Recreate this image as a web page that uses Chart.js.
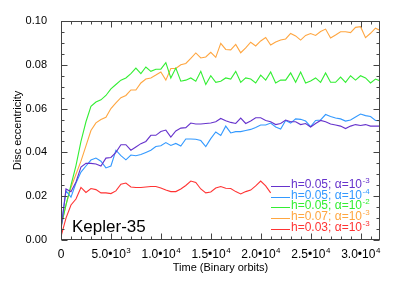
<!DOCTYPE html>
<html>
<head>
<meta charset="utf-8">
<script src="https://cdn.jsdelivr.net/npm/chart.js@4.4.0/dist/chart.umd.min.js"></script>
<style>
  html, body { margin: 0; padding: 0; background: #fff; }
  #wrap { width: 407px; height: 285px; }
</style>
</head>
<body>
<div id="wrap"><canvas id="discChart"></canvas></div>
<script>
// time in binary orbits, one sample every 500 orbits
const times = [0, 500, 1000, 1500, 2000, 2500, 3000, 3500, 4000, 4500,
  5000, 5500, 6000, 6500, 7000, 7500, 8000, 8500, 9000, 9500,
  10000, 10500, 11000, 11500, 12000, 12500, 13000, 13500, 14000, 14500,
  15000, 15500, 16000, 16500, 17000, 17500, 18000, 18500, 19000, 19500,
  20000, 20500, 21000, 21500, 22000, 22500, 23000, 23500, 24000, 24500,
  25000, 25500, 26000, 26500, 27000, 27500, 28000, 28500, 29000, 29500,
  30000, 30500, 31000, 31500, 32000];

// h=0.05, alpha=1e-3
const eccH05A3 = [0.0046, 0.0233, 0.022, 0.0265, 0.0333, 0.035, 0.035, 0.0347, 0.0338, 0.0374,
  0.0377, 0.040, 0.0435, 0.0435, 0.041, 0.0425, 0.0440, 0.045, 0.0478, 0.0478,
  0.0495, 0.0502, 0.047, 0.0498, 0.0511, 0.0513, 0.0534, 0.053, 0.053, 0.0532,
  0.0534, 0.054, 0.0555, 0.0545, 0.0537, 0.0532, 0.0557, 0.0532, 0.0543, 0.0558,
  0.0558, 0.0546, 0.054, 0.0527, 0.0532, 0.0548, 0.054, 0.054, 0.0527, 0.0532,
  0.0516, 0.0532, 0.0546, 0.054, 0.053, 0.0525, 0.052, 0.0509, 0.052, 0.0527,
  0.0523, 0.0527, 0.052, 0.052, 0.052];

// h=0.05, alpha=1e-4
const eccH05A4 = [0.0055, 0.0224, 0.0196, 0.026, 0.031, 0.0338, 0.0365, 0.0374, 0.036, 0.0329,
  0.0338, 0.041, 0.0385, 0.0366, 0.0388, 0.0385, 0.039, 0.040, 0.041, 0.0427,
  0.043, 0.0445, 0.0432, 0.0441, 0.0429, 0.0461, 0.0461, 0.046, 0.0454, 0.0427,
  0.0463, 0.0493, 0.0477, 0.052, 0.0489, 0.0495, 0.0495, 0.050, 0.0505, 0.0514,
  0.0525, 0.0525, 0.0534, 0.0516, 0.0507, 0.0546, 0.0534, 0.0553, 0.0551, 0.0543,
  0.0518, 0.0546, 0.0548, 0.0573, 0.0564, 0.0557, 0.0553, 0.0543, 0.0548, 0.0562,
  0.0575, 0.0568, 0.0564, 0.0546, 0.0545];

// h=0.05, alpha=1e-2
const eccH05A2 = [0.006, 0.016, 0.025, 0.034, 0.045, 0.054, 0.061, 0.063, 0.064, 0.066,
  0.069, 0.071, 0.073, 0.074, 0.076, 0.0785, 0.076, 0.079, 0.077, 0.078,
  0.078, 0.081, 0.074, 0.0785, 0.0725, 0.073, 0.074, 0.0725, 0.077, 0.071,
  0.075, 0.072, 0.0725, 0.074, 0.0735, 0.077, 0.072, 0.074, 0.0735, 0.0717,
  0.0753, 0.073, 0.0767, 0.0717, 0.073, 0.073, 0.0763, 0.072, 0.0767, 0.0717,
  0.0726, 0.074, 0.072, 0.0763, 0.072, 0.072, 0.0744, 0.072, 0.075, 0.073,
  0.075, 0.074, 0.0717, 0.0735, 0.0726];

// h=0.07, alpha=1e-3
const eccH07A3 = [0.0064, 0.016, 0.024, 0.030, 0.036, 0.043, 0.050, 0.0535, 0.055, 0.056,
  0.060, 0.0626, 0.065, 0.066, 0.0685, 0.0685, 0.0717, 0.0735, 0.074, 0.0753,
  0.0767, 0.073, 0.0783, 0.0783, 0.080, 0.0806, 0.0829, 0.0854, 0.0831, 0.0836,
  0.0857, 0.0834, 0.0898, 0.087, 0.0868, 0.0893, 0.0855, 0.0877, 0.0903, 0.0886,
  0.0909, 0.0925, 0.089, 0.0904, 0.0913, 0.0918, 0.0943, 0.0932, 0.0913, 0.0934,
  0.0943, 0.0934, 0.0952, 0.0963, 0.0922, 0.0936, 0.0951, 0.0951, 0.0947, 0.0971,
  0.0974, 0.0924, 0.0944, 0.0967, 0.0956];

// h=0.03, alpha=1e-3 (run stops near 2.1e4 orbits)
const eccH03A3 = [0.0016, 0.010, 0.016, 0.0187, 0.024, 0.0217, 0.0235, 0.023, 0.0215, 0.0215,
  0.0212, 0.0224, 0.0255, 0.026, 0.0242, 0.024, 0.024, 0.0242, 0.0244, 0.0244,
  0.0237, 0.0228, 0.0221, 0.0221, 0.0233, 0.0249, 0.0269, 0.0263, 0.0233, 0.0215,
  0.0219, 0.0237, 0.0244, 0.0236, 0.0235, 0.0221, 0.021, 0.0221, 0.0228, 0.0247,
  0.0269, 0.0247, 0.0215];

const seriesValues = [eccH05A3, eccH05A4, eccH05A2, eccH07A3, eccH03A3];
const seriesColors = ['#6633cc', '#3399ff', '#33ee33', '#ffa640', '#ff3333'];
const legendH = ['0.05', '0.05', '0.05', '0.07', '0.03'];
const legendExp = ['-3', '-4', '-2', '-3', '-3'];

const xTickValues = [0, 5000, 10000, 15000, 20000, 25000, 30000];
const xTickBase = ['0', '5.0\u202210', '1.0\u202210', '1.5\u202210', '2.0\u202210', '2.5\u202210', '3.0\u202210'];
const xTickExp = ['', '3', '4', '4', '4', '4', '4'];
const yTickValues = [0, 0.02, 0.04, 0.06, 0.08, 0.10];

const FONT = "'Liberation Sans', Arial, Helvetica, sans-serif";
const AXIS_COLOR = '#444';

function supText(ctx, base, sup, x, y, size, align) {
  ctx.font = size + 'px ' + FONT;
  const wb = ctx.measureText(base).width;
  const ss = Math.round(size * 0.65);
  ctx.font = ss + 'px ' + FONT;
  const ws = sup ? ctx.measureText(sup).width : 0;
  let x0 = x;
  if (align === 'center') x0 = x - (wb + ws) / 2;
  ctx.textAlign = 'left';
  ctx.textBaseline = 'alphabetic';
  ctx.font = size + 'px ' + FONT;
  ctx.fillText(base, x0, y);
  if (sup) {
    ctx.font = ss + 'px ' + FONT;
    ctx.fillText(sup, x0 + wb + 0.5, y - size * 0.42);
  }
}

const framePlugin = {
  id: 'frame',
  afterDraw(chart) {
    const ctx = chart.ctx;
    const ca = chart.chartArea;
    const xs = chart.scales.x;
    const ys = chart.scales.y;
    ctx.save();

    // box
    ctx.strokeStyle = AXIS_COLOR;
    ctx.lineWidth = 1;
    const L = Math.round(ca.left) + 0.5, R = Math.round(ca.right) - 0.5;
    const T = Math.round(ca.top) + 0.5, B = Math.round(ca.bottom) - 0.5;
    ctx.strokeRect(L, T, R - L, B - T);

    // ticks pointing inward on all four sides
    ctx.beginPath();
    for (let v = 0; v <= xs.max; v += 1000) {
      const px = Math.round(xs.getPixelForValue(v)) + 0.5;
      const len = v % 5000 === 0 ? 6 : 3;
      ctx.moveTo(px, B); ctx.lineTo(px, B - len);
      ctx.moveTo(px, T); ctx.lineTo(px, T + len);
    }
    for (let k = 0; k <= 20; k++) {
      const v = k * 0.005;
      const py = Math.round(ys.getPixelForValue(v)) + 0.5;
      const len = k % 4 === 0 ? 6 : 3;
      ctx.moveTo(L, py); ctx.lineTo(L + len, py);
      ctx.moveTo(R, py); ctx.lineTo(R - len, py);
    }
    ctx.stroke();

    // x tick labels with powers of ten
    ctx.fillStyle = '#000';
    xTickValues.forEach((v, i) => {
      supText(ctx, xTickBase[i], xTickExp[i], xs.getPixelForValue(v), ca.bottom + 18, 12, 'center');
    });

    // axis titles
    ctx.font = '11px ' + FONT;
    ctx.textAlign = 'center';
    ctx.textBaseline = 'alphabetic';
    ctx.fillText('Time (Binary orbits)', (ca.left + ca.right) / 2, ca.bottom + 31);
    ctx.save();
    ctx.translate(18, (ca.top + ca.bottom) / 2);
    ctx.rotate(-Math.PI / 2);
    ctx.textBaseline = 'middle';
    ctx.fillText('Disc eccentricity', 0, 0);
    ctx.restore();

    // system name
    ctx.font = '17px ' + FONT;
    ctx.textAlign = 'left';
    ctx.fillText('Kepler-35', ca.left + 11, ca.bottom - 8);

    // legend
    legendH.forEach((h, i) => {
      const by = 188 + i * 10.7;
      const ly = Math.round(by - 2) + 0.5;
      ctx.strokeStyle = seriesColors[i];
      ctx.beginPath();
      ctx.moveTo(ca.right - 109, ly);
      ctx.lineTo(ca.right - 90, ly);
      ctx.stroke();
      ctx.fillStyle = seriesColors[i];
      supText(ctx, 'h=' + h + '; \u03b1=10', legendExp[i], ca.right - 89, by, 12, 'left');
    });

    ctx.restore();
  }
};

const datasets = seriesValues.map((vals, i) => ({
  data: vals.map((v, j) => ({ x: times[j], y: v })),
  borderColor: seriesColors[i],
  borderWidth: 1.1,
  pointRadius: 0,
  tension: 0,
  fill: false
}));

new Chart(document.getElementById('discChart'), {
  type: 'line',
  data: { datasets },
  options: {
    responsive: true,
    maintainAspectRatio: false,
    animation: false,
    devicePixelRatio: 1,
    layout: { padding: { top: 21, right: 27, left: 0, bottom: 0 } },
    plugins: { legend: { display: false }, tooltip: { enabled: false } },
    scales: {
      x: {
        type: 'linear',
        min: 0,
        max: 31950,
        grid: { display: false },
        border: { display: false },
        ticks: { display: false },
        afterFit: s => { s.height = 45; }
      },
      y: {
        min: 0,
        max: 0.1,
        grid: { display: false },
        border: { display: false },
        afterBuildTicks: s => { s.ticks = yTickValues.map(v => ({ value: v })); },
        ticks: {
          color: '#000',
          padding: 6,
          font: { family: FONT, size: 11 },
          callback: v => v.toFixed(2)
        },
        afterFit: s => { s.width = 61; }
      }
    }
  },
  plugins: [framePlugin]
});
</script>
</body>
</html>
